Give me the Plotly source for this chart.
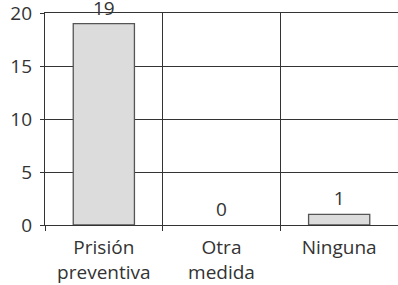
import plotly.graph_objects as go

categories = ["Prisión<br>preventiva", "Otra<br>medida", "Ninguna"]
values = [19, 0, 1]
y_ticks = [0, 5, 10, 15, 20]

fig = go.Figure(go.Bar(
    x=categories, y=values,
    text=[str(v) for v in values], textposition="outside",
    cliponaxis=False,
    textfont=dict(size=19, color="#333333"),
    marker=dict(color="#dcdcdc",
                line=dict(color="#555555", width=[1.3 if v > 0 else 0 for v in values])),
    width=0.52,
))

fig.update_layout(
    width=398, height=285,
    margin=dict(l=45, r=0, t=13, b=60, autoexpand=False),
    paper_bgcolor="white", plot_bgcolor="white",
    font=dict(family="Open Sans", size=19, color="#333333"),
    showlegend=False,
)
fig.update_xaxes(
    tickson="boundaries", ticks="outside", ticklen=5, tickcolor="#333333",
    showgrid=True, gridcolor="#333333", gridwidth=1.2,
    showline=True, linecolor="#333333", linewidth=1.2, mirror=True,
    tickfont=dict(size=19), automargin=False, ticklabelstandoff=5,
    ticklabeloverflow="allow",
)
fig.update_yaxes(
    range=[0, 20], tickvals=y_ticks, ticks="outside", ticklen=4, tickcolor="#333333",
    showgrid=True, gridcolor="#333333", gridwidth=1.2,
    showline=True, linecolor="#333333", linewidth=1.2,
    zeroline=False, ticklabelstandoff=4,
    tickfont=dict(size=19), automargin=False, ticklabeloverflow="allow",
)

fig.write_html(
    "out.html",
    config={"displayModeBar": False},
    post_script="document.body.style.margin='0';document.body.style.overflow='hidden';",
)
